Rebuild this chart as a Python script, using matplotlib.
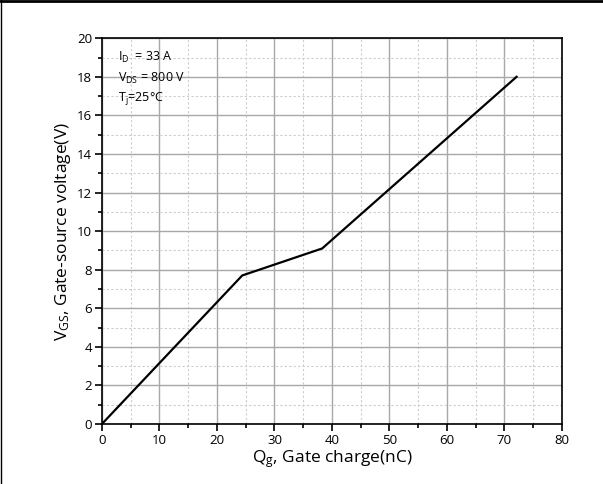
import matplotlib
matplotlib.use("Agg")
import matplotlib.pyplot as plt
from matplotlib.lines import Line2D
from matplotlib.ticker import MultipleLocator

# gate charge curve (nC, V)
qg = [0, 24.4, 38.3, 72.1]
vgs = [0, 7.7, 9.1, 18.0]

x_ticks = [0, 10, 20, 30, 40, 50, 60, 70, 80]
y_ticks = [0, 2, 4, 6, 8, 10, 12, 14, 16, 18, 20]

plt.rcParams['font.family'] = ['Open Sans', 'DejaVu Sans']
plt.rcParams['mathtext.fontset'] = 'custom'
plt.rcParams['mathtext.rm'] = 'Open Sans'
plt.rcParams['mathtext.it'] = 'Open Sans'

fig = plt.figure(figsize=(6.03, 4.84), dpi=100)
ax = fig.add_axes([0.169, 0.124, 0.763, 0.797])

ax.plot(qg, vgs, color='black', linewidth=1.6, zorder=3)

ax.set_xlim(0, 80)
ax.set_ylim(0, 20)
ax.set_xticks(x_ticks)
ax.set_yticks(y_ticks)
ax.xaxis.set_minor_locator(MultipleLocator(5))
ax.yaxis.set_minor_locator(MultipleLocator(1))

ax.grid(which='major', color='#a8a8a8', linestyle='-', linewidth=1.0)
ax.grid(which='minor', color='#cccccc', linestyle=(0, (2, 2)), linewidth=0.8)
ax.set_axisbelow(True)

ax.tick_params(which='major', direction='out', length=5, width=1.2, labelsize=9.5, pad=2)
ax.tick_params(which='minor', direction='out', length=3, width=1.2)
for s in ax.spines.values():
    s.set_linewidth(1.2)

ax.set_xlabel(r'$\mathregular{Q_{g}}$, Gate charge(nC)', fontsize=12.5, labelpad=1)
ax.set_ylabel(r'$\mathregular{V_{GS}}$, Gate-source voltage(V)', fontsize=12.5, labelpad=3)

ax.text(2.8, 19.0, r'$\mathregular{I_{D}}$  = 33 A', fontsize=9, va='center')
ax.text(2.8, 17.9, r'$\mathregular{V_{DS}}$ = 800 V', fontsize=9, va='center')
ax.text(2.8, 16.85, r'$\mathregular{T_{j}}$=25°C', fontsize=9, va='center')

# frame lines on top and left edges of the figure
fig.add_artist(Line2D([0, 1], [0.997, 0.997], transform=fig.transFigure, color='black', linewidth=2))
fig.add_artist(Line2D([0.001, 0.001], [0, 1], transform=fig.transFigure, color='black', linewidth=1))

fig.savefig('out.png', dpi=100)
